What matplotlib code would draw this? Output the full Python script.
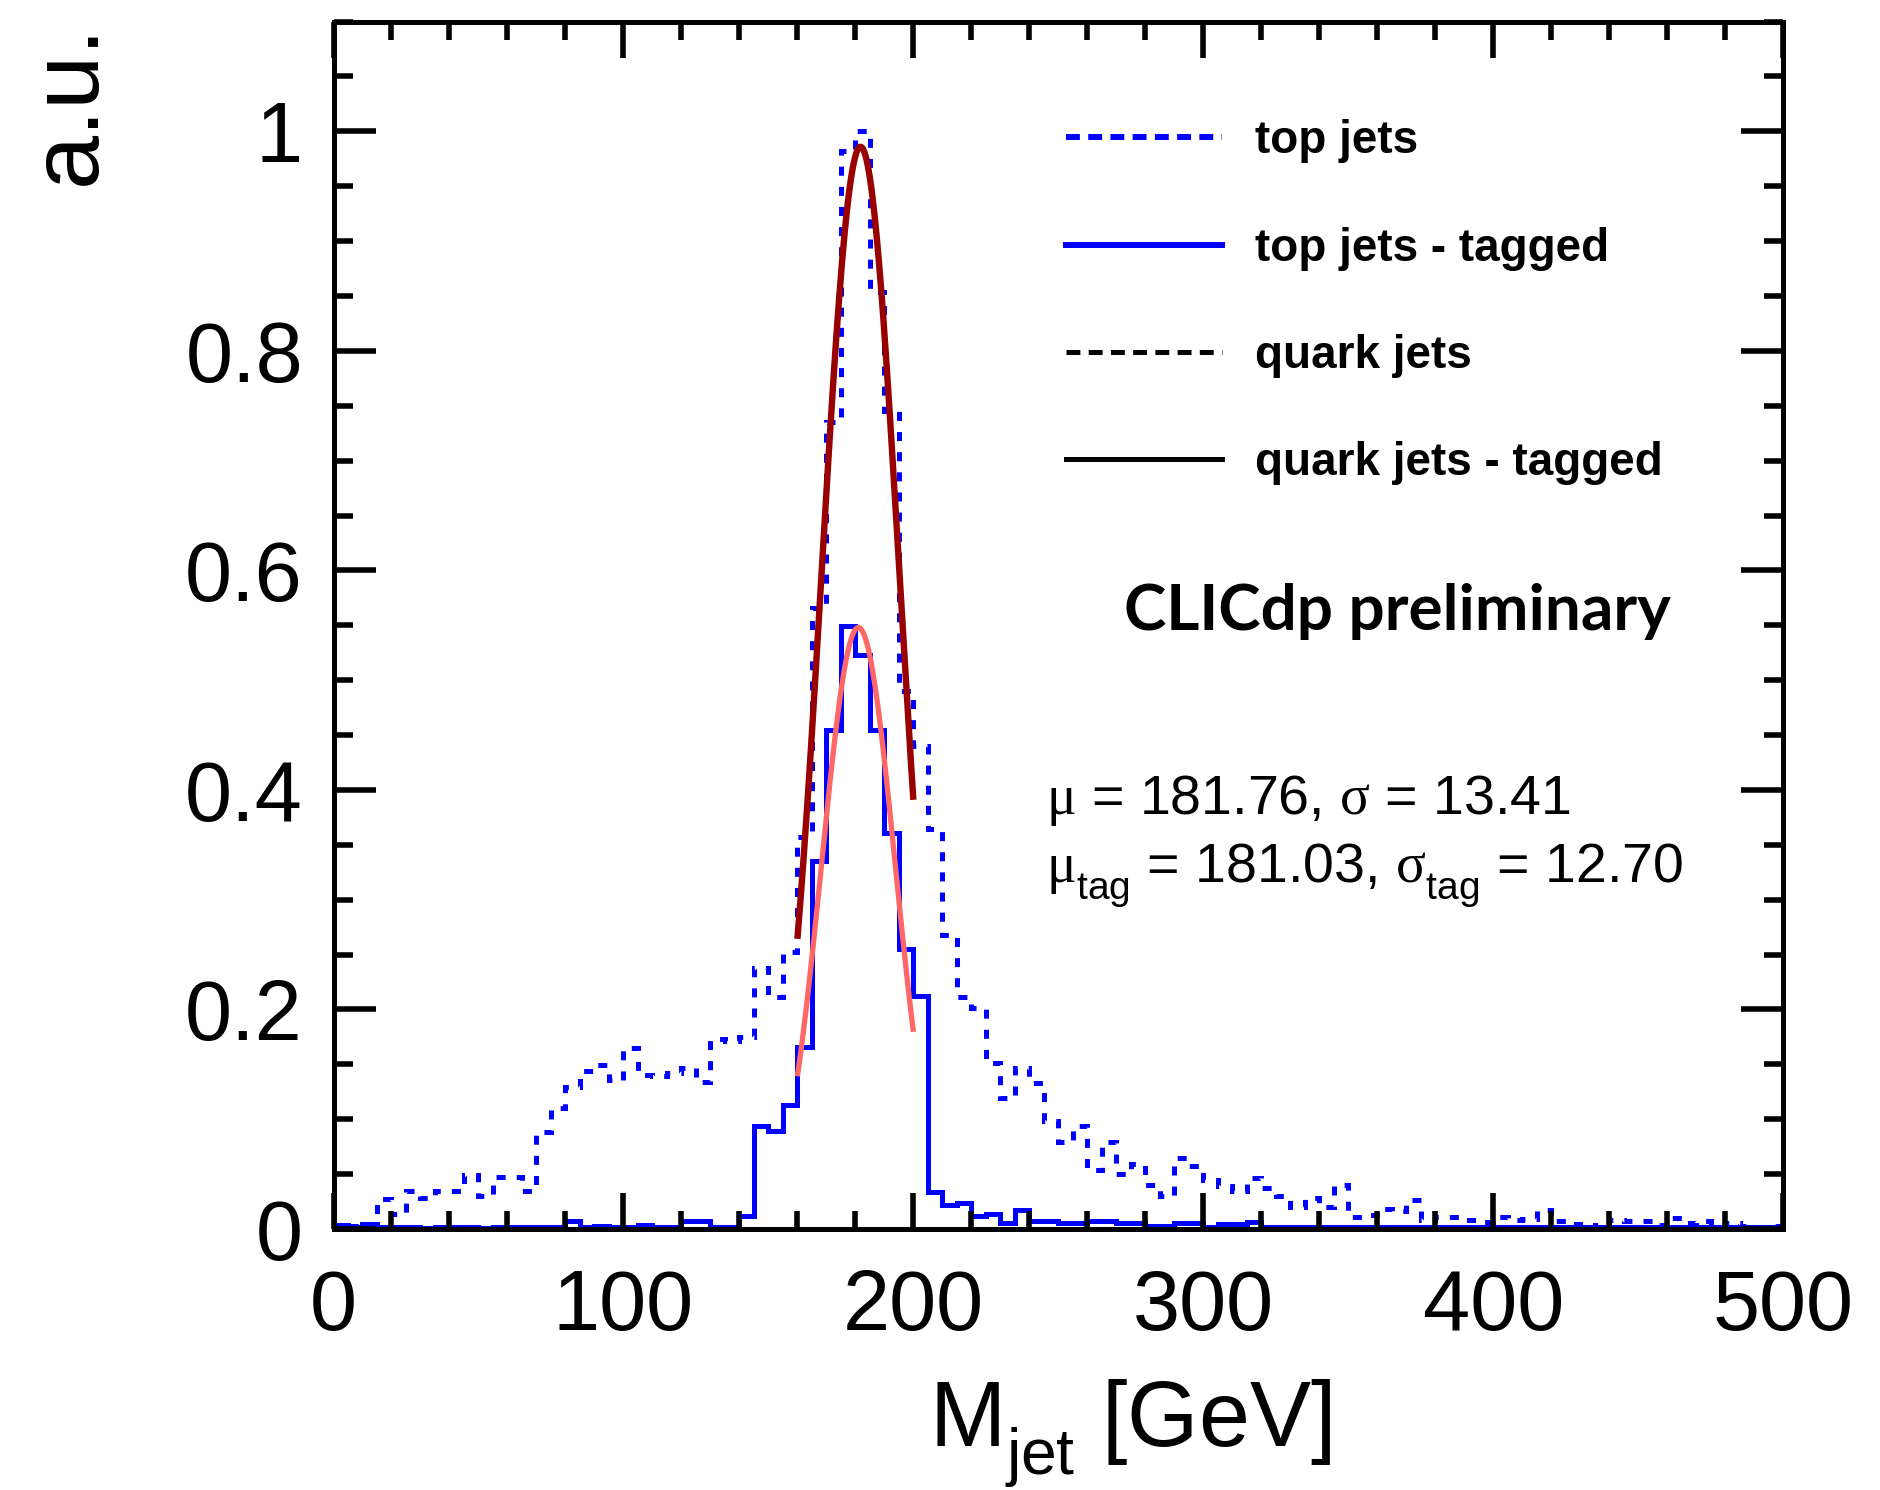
import numpy as np
import matplotlib.pyplot as plt
import matplotlib._mathtext as _mathtext
from matplotlib.lines import Line2D
from matplotlib.ticker import MultipleLocator, FuncFormatter

plt.rcParams['font.family'] = ['Liberation Sans', 'DejaVu Sans']
plt.rcParams['mathtext.fontset'] = 'custom'
plt.rcParams['mathtext.rm'] = 'Liberation Serif'
plt.rcParams['mathtext.sf'] = 'Liberation Sans'
plt.rcParams['mathtext.it'] = 'Liberation Serif:italic'
plt.rcParams['lines.scale_dashes'] = False
# ROOT puts subscripts lower than mathtext does
_mathtext.FontConstantsBase.sub1 = 0.68

# 5 GeV bins from 0 to 500 GeV
bin_edges = np.arange(0, 501, 5)

top_jets = [
    0.004, 0.003, 0.004, 0.027, 0.014, 0.035, 0.028, 0.035, 0.035, 0.049,
    0.030, 0.047, 0.047, 0.035, 0.088, 0.110, 0.129, 0.144, 0.149, 0.136,
    0.165, 0.140, 0.139, 0.142, 0.147, 0.134, 0.173, 0.171, 0.175, 0.238,
    0.211, 0.252, 0.357, 0.566, 0.735, 0.982, 1.000, 0.854, 0.745, 0.490,
    0.440, 0.364, 0.268, 0.211, 0.201, 0.151, 0.119, 0.147, 0.133, 0.098,
    0.079, 0.094, 0.054, 0.079, 0.050, 0.059, 0.040, 0.030, 0.065, 0.057,
    0.045, 0.039, 0.035, 0.046, 0.037, 0.030, 0.020, 0.028, 0.020, 0.040,
    0.011, 0.013, 0.018, 0.016, 0.026, 0.008, 0.011, 0.011, 0.008, 0.006,
    0.011, 0.008, 0.009, 0.017, 0.007, 0.0045, 0.002, 0.0035, 0.008, 0.007,
    0.007, 0.004, 0.010, 0.005, 0.0076, 0.004, 0.005, 0.003, 0.002, 0.003,
]

top_jets_tagged = [
    0.004, 0.0015, 0.0045, 0.0015, 0.0015, 0.0015, 0.001, 0.0015, 0.0015, 0.0015,
    0.001, 0.0015, 0.0015, 0.0015, 0.0015, 0.0015, 0.007, 0.002, 0.0024, 0.002,
    0.002, 0.004, 0.002, 0.002, 0.007, 0.007, 0.002, 0.002, 0.012, 0.094,
    0.089, 0.113, 0.166, 0.335, 0.455, 0.549, 0.523, 0.455, 0.361, 0.255,
    0.212, 0.034, 0.022, 0.024, 0.0115, 0.0137, 0.005, 0.017, 0.0076, 0.007,
    0.005, 0.005, 0.007, 0.007, 0.005, 0.005, 0.0024, 0.0024, 0.005, 0.005,
    0.002, 0.0045, 0.0045, 0.0067, 0.002, 0.0015, 0.002, 0.0015, 0.002, 0.0015,
    0.0015, 0.002, 0.0015, 0.0015, 0.002, 0.0015, 0.0015, 0.0015, 0.002, 0.0015,
    0.0015, 0.0015, 0.002, 0.0015, 0.0015, 0.0015, 0.0015, 0.0015, 0.0015, 0.0015,
    0.0015, 0.0015, 0.0015, 0.0015, 0.0015, 0.0015, 0.0015, 0.0015, 0.0015, 0.0015,
]

# gaussian fits (amplitude, mean, sigma), drawn between 160 and 200 GeV
fit_range = (160, 200)
fit_all = (0.986, 181.76, 13.41)
fit_tag = (0.548, 181.03, 12.70)

legend_labels = ['top jets', 'top jets - tagged', 'quark jets', 'quark jets - tagged']

blue = '#0000ff'
dash = (0, (6.5, 8.0))


def gauss(x, p):
    a, mu, sig = p
    return a * np.exp(-0.5 * ((x - mu) / sig) ** 2)


fig = plt.figure(figsize=(18.81, 14.90), dpi=100)
ax = fig.add_axes([0.1773, 0.1752, 0.7707, 0.8103])

ax.stairs(top_jets, bin_edges, color=blue, lw=3.6, linestyle=dash)
ax.stairs(top_jets_tagged, bin_edges, color=blue, lw=3.6)

xf = np.linspace(fit_range[0], fit_range[1], 300)
ax.plot(xf, gauss(xf, fit_all), color='#990000', lw=4.6, solid_capstyle='butt')
ax.plot(xf, gauss(xf, fit_tag), color='#ff6666', lw=3.8, solid_capstyle='butt')

ax.set_xlim(0, 500)
ax.set_ylim(0, 1.1)
ax.xaxis.set_major_locator(MultipleLocator(100))
ax.xaxis.set_minor_locator(MultipleLocator(20))
ax.yaxis.set_major_locator(MultipleLocator(0.2))
ax.yaxis.set_minor_locator(MultipleLocator(0.05))
ax.yaxis.set_major_formatter(FuncFormatter(lambda v, p: f'{v:g}'))
ax.tick_params(which='both', direction='in', top=True, right=True, width=4, labelsize=61)
ax.tick_params(axis='x', which='major', length=26, pad=28)
ax.tick_params(axis='x', which='minor', length=13)
ax.tick_params(axis='y', which='major', length=30, pad=22)
ax.tick_params(axis='y', which='minor', length=14)
for s in ax.spines.values():
    s.set_linewidth(3.6)

handles = [
    Line2D([], [], color=blue, lw=4.3, linestyle=(0, (10, 6))),
    Line2D([], [], color=blue, lw=4.3),
    Line2D([], [], color='black', lw=3.6, linestyle=(0, (10, 6))),
    Line2D([], [], color='black', lw=3.6),
]
ax.legend(handles, legend_labels, loc='upper left', bbox_to_anchor=(0.505, 0.919),
          frameon=False, prop={'weight': 'bold', 'size': 33}, handlelength=3.41,
          handletextpad=0.73, labelspacing=1.38, borderpad=0, borderaxespad=0)

ax.text(0.5453, 0.496, 'CLICdp preliminary', transform=ax.transAxes,
        fontfamily='Lato', fontweight='bold', fontsize=46, va='baseline')
ax.text(0.4916, 0.3437, r'$\mathrm{\mu}$ = 181.76, $\mathrm{\sigma}$ = 13.41',
        transform=ax.transAxes, fontsize=40, va='baseline')
ax.text(0.4916, 0.2874,
        r'$\mathrm{\mu}_{\mathsf{tag}}$ = 181.03, $\mathrm{\sigma}_{\mathsf{tag}}$ = 12.70',
        transform=ax.transAxes, fontsize=40, va='baseline')

fig.text(0.6007, 0.029, r'M$_{\mathsf{jet}}$ [GeV]', fontsize=66, ha='center', va='baseline')
fig.text(0.037, 0.985, 'a.u.', fontsize=70, rotation=90, ha='center', va='top')

fig.savefig('out.png', dpi=100)
